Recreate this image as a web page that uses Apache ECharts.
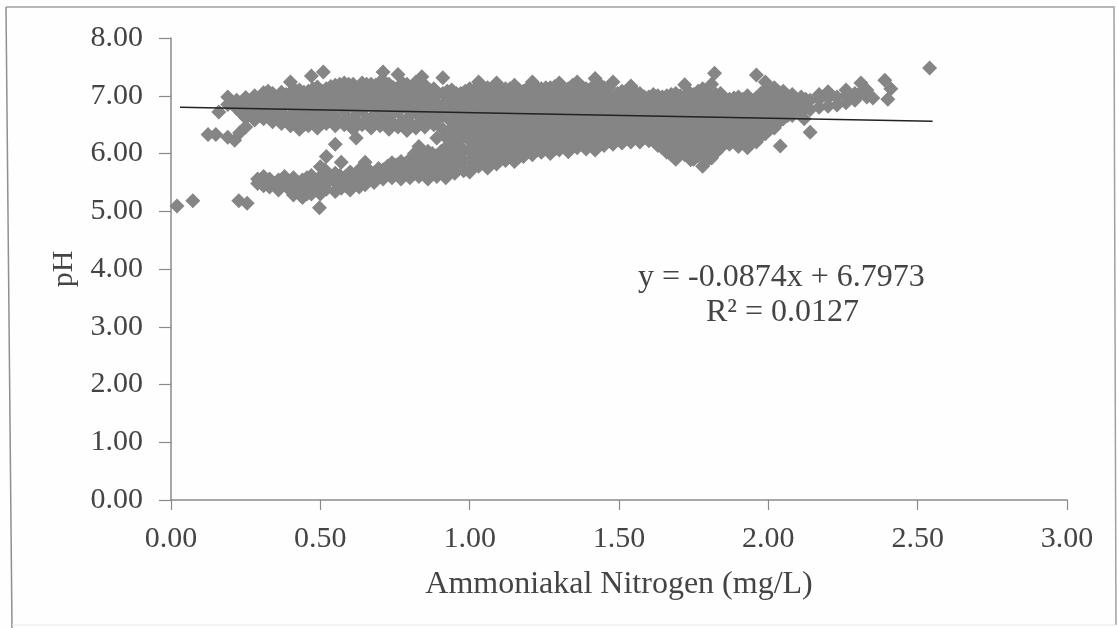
<!DOCTYPE html>
<html><head><meta charset="utf-8">
<script src="https://cdn.jsdelivr.net/npm/echarts@6/dist/echarts.min.js"></script>
<style>html,body{margin:0;padding:0;background:#fefefe}#c{width:1117px;height:628px}</style>
</head><body><div id="c"></div>
<script>
// Each row: nitrogen, then the pH readings in that narrow nitrogen slice
const upperLeft = [
[.16,6.72],[.19,6.85,6.98],[.22,6.78,6.92],[.25,6.62,6.8,6.97],[.28,6.58,6.72,6.9,7.0],[.31,6.6,6.8,6.98,7.05],
[.34,6.55,6.7,6.88,7.04],[.37,6.52,6.78,6.95,7.06],[.40,6.48,6.66,6.86,7.05,7.24],[.43,6.42,6.6,6.8,6.98,7.1],
[.46,6.48,6.7,6.9,7.08],[.47,7.34],[.49,6.44,6.6,6.8,7.0,7.15],[.51,7.41],[.52,6.52,6.72,6.92,7.12],[.55,6.48,6.64,6.84,7.02,7.18],
[.58,6.5,6.74,6.94,7.14,7.22],[.61,6.42,6.62,6.82,7.02,7.2],[.62,6.27],[.64,6.5,6.74,6.92,7.1,7.22],[.67,6.44,6.62,6.84,7.04,7.2],
[.70,6.48,6.72,6.94,7.14,7.24],[.71,7.41],[.73,6.42,6.62,6.82,7.02,7.2],[.76,6.46,6.72,6.92,7.12,7.37],[.79,6.4,6.6,6.82,7.02,7.2],
[.82,6.44,6.7,6.92,7.1,7.24],[.84,7.33],[.85,6.46,6.62,6.82,7.02,7.18],[.88,6.5,6.72,6.92,7.12],[.91,6.42,6.66,6.84,7.04,7.31],
[.94,6.44,6.56,6.74,6.94,7.1],[.97,6.42,6.5,6.68,6.86,7.04]
];
const upperFill = [
[.235,6.7,6.86],[.265,6.68,6.88],[.295,6.66,6.82,6.94],[.325,6.7,6.9,7.08],[.355,6.62,6.8,6.98],[.385,6.64,6.86,7.02],
[.415,6.54,6.76,6.96,7.1],[.445,6.5,6.72,6.9,7.06],[.475,6.58,6.8,7.0,7.12],[.505,6.52,6.7,6.9,7.08],[.535,6.6,6.8,7.0,7.16],
[.565,6.56,6.82,7.04,7.2],[.595,6.6,6.84,7.04,7.2],[.625,6.52,6.72,6.94,7.12],[.655,6.6,6.82,7.02,7.2],[.685,6.54,6.82,7.04,7.18],
[.715,6.58,6.84,7.06,7.24],[.745,6.52,6.74,6.96,7.14],[.775,6.56,6.82,7.04,7.22],[.805,6.5,6.72,6.94,7.14],[.835,6.56,6.8,7.0,7.2],
[.865,6.56,6.76,6.98,7.1],[.895,6.6,6.82,7.04],[.925,6.62,6.86,7.08],[.955,6.64,6.84,7.04],[.985,6.6,6.78,6.96,7.08]
];
const lowerLeft = [
[.29,5.48,5.56],[.31,5.6,5.44],[.33,5.42,5.56],[.36,5.37,5.54],[.38,5.48,5.6],[.41,5.28,5.44,5.58],[.44,5.24,5.38,5.54],
[.47,5.3,5.48,5.62],[.50,5.3,5.44,5.6,5.77],[.52,5.38,5.56,5.95],[.55,5.34,5.5,5.66,6.16],[.57,5.4,5.56,5.85],
[.60,5.37,5.52,5.68],[.63,5.42,5.6,5.72],[.65,5.46,5.64,5.85],[.68,5.5,5.66],[.71,5.56,5.72],[.74,5.58,5.74,5.84],
[.77,5.56,5.7,5.86],[.80,5.58,5.74,5.9],[.83,5.6,5.76,5.94,6.12],[.86,5.56,5.72,5.9,6.04],[.89,5.6,5.78,5.96,6.27],
[.92,5.58,5.74,5.92,6.1,6.28],[.95,5.66,5.82,6.0,6.2,6.36],[.98,5.7,5.88,6.06,6.3,6.4]
];
const lowerFill = [
[.345,5.48],[.395,5.38,5.52],[.425,5.34,5.5],[.455,5.3,5.44,5.58],[.485,5.38,5.54],[.515,5.46,5.62,5.72],[.565,5.46,5.62],
[.585,5.44,5.6],[.615,5.46,5.62],[.665,5.56,5.7],[.695,5.6,5.74],[.725,5.64,5.78],[.755,5.64,5.8],[.785,5.66,5.82],[.815,5.66,5.84,6.0],
[.845,5.66,5.84,6.0],[.875,5.66,5.84,6.0],[.905,5.68,5.86,6.04],[.935,5.68,5.86,6.04,6.2],[.965,5.76,5.94,6.12,6.34]
];
const merged = [
[1.00,5.68,5.86,6.04,6.22,6.42,6.62,6.82,7.02,7.12],[1.03,5.78,5.96,6.14,6.32,6.52,6.72,6.92,7.1,7.24],
[1.06,5.75,5.92,6.1,6.28,6.46,6.64,6.84,7.04,7.14],[1.09,5.82,6.0,6.18,6.38,6.58,6.78,6.98,7.22],
[1.12,5.88,6.06,6.24,6.44,6.64,6.84,7.04,7.12],[1.15,5.86,6.0,6.2,6.4,6.6,6.8,7.0,7.18],
[1.18,5.95,6.12,6.3,6.5,6.7,6.9,7.08],[1.21,5.98,6.06,6.24,6.44,6.64,6.84,7.04,7.24],
[1.24,6.02,6.18,6.36,6.56,6.76,6.96,7.12],[1.27,6.0,6.12,6.3,6.5,6.7,6.9,7.08,7.14],
[1.30,6.06,6.22,6.42,6.62,6.82,7.02,7.22],[1.33,6.03,6.16,6.36,6.56,6.76,6.96,7.12],
[1.36,6.1,6.28,6.48,6.68,6.88,7.08,7.24],[1.39,6.08,6.22,6.42,6.62,6.82,7.02,7.12],
[1.42,6.06,6.3,6.5,6.7,6.9,7.1,7.3],[1.45,6.14,6.26,6.46,6.66,6.86,7.06,7.14],
[1.48,6.16,6.34,6.54,6.74,6.94,7.24],[1.51,6.18,6.3,6.5,6.7,6.9,7.08],
[1.54,6.2,6.38,6.58,6.78,6.98,7.17],[1.57,6.2,6.32,6.52,6.72,6.92,7.04],
[1.60,6.22,6.4,6.6,6.8,6.98],[1.63,6.14,6.3,6.5,6.7,6.9,7.0],[1.66,6.02,6.2,6.4,6.6,6.8,7.0],
[1.69,5.92,6.1,6.3,6.5,6.7,6.9,7.04],[1.72,5.98,6.18,6.38,6.58,6.78,6.98,7.19],
[1.75,5.9,6.08,6.28,6.48,6.68,6.88,7.02],[1.78,5.78,5.96,6.16,6.36,6.56,6.76,6.96,7.12],
[1.81,5.92,6.12,6.32,6.52,6.72,6.92,7.2],[1.82,7.39],[1.84,6.1,6.24,6.44,6.64,6.84,7.04],
[1.87,6.16,6.34,6.54,6.74,6.94],[1.90,6.12,6.28,6.48,6.68,6.88,6.98],[1.93,6.1,6.22,6.42,6.62,6.82,7.0],
[1.96,6.2,6.36,6.56,6.76,6.96,7.36],[1.99,6.34,6.5,6.7,6.9,7.1,7.24],[2.02,6.44,6.6,6.8,7.0,7.14],
[2.05,6.6,6.74,6.94,7.08],[2.08,6.66,6.84,7.02],[2.11,6.72,6.88,6.98],[2.14,6.76,6.92]
];
const mergedFill = [
[1.015,5.78,5.95,6.13,6.32,6.52,6.72,6.92,7.1],[1.045,5.86,6.04,6.22,6.42,6.62,6.82,7.02,7.12],[1.075,5.84,6.0,6.2,6.38,6.55,6.74,6.94,7.12],
[1.105,5.92,6.1,6.28,6.48,6.68,6.88,7.08],[1.135,5.95,6.14,6.34,6.54,6.74,6.94,7.12],[1.165,5.94,6.1,6.3,6.5,6.7,6.9,7.1],
[1.195,6.04,6.2,6.4,6.6,6.8,7.0,7.14],[1.225,6.06,6.16,6.34,6.54,6.74,6.94,7.14],[1.255,6.1,6.28,6.46,6.66,6.86,7.06,7.14],
[1.285,6.08,6.22,6.4,6.6,6.8,7.0,7.16],[1.315,6.14,6.32,6.52,6.72,6.92,7.12],[1.345,6.12,6.26,6.46,6.66,6.86,7.06,7.18],
[1.375,6.18,6.38,6.58,6.78,6.98,7.16],[1.405,6.16,6.32,6.52,6.72,6.92,7.12],[1.435,6.16,6.4,6.6,6.8,7.0,7.2],
[1.465,6.22,6.36,6.56,6.76,6.96,7.14],[1.495,6.24,6.44,6.64,6.84,7.04],[1.525,6.26,6.4,6.6,6.8,7.0],
[1.555,6.28,6.48,6.68,6.88,7.06],[1.585,6.28,6.42,6.62,6.82,6.98],[1.615,6.26,6.5,6.7,6.9,7.02],[1.645,6.1,6.28,6.46,6.66,6.86,6.98],
[1.675,5.98,6.14,6.32,6.52,6.72,6.92,7.02],[1.705,6.02,6.2,6.4,6.6,6.8,7.0],[1.735,6.04,6.26,6.46,6.66,6.88,7.06],
[1.765,5.96,6.16,6.36,6.58,6.78,6.98,7.08],[1.795,5.88,6.06,6.26,6.46,6.66,6.86,7.06],[1.825,6.02,6.22,6.42,6.62,6.82,7.02],
[1.855,6.18,6.34,6.54,6.74,6.94],[1.885,6.24,6.44,6.64,6.84,6.96],[1.915,6.2,6.38,6.58,6.78,6.94],[1.945,6.22,6.34,6.52,6.72,6.92],
[1.975,6.3,6.46,6.66,6.86,7.04],[2.005,6.42,6.6,6.8,7.0],[2.035,6.54,6.7,6.9,7.06],[2.065,6.66,6.84,7.0],[2.095,6.72,6.92],[2.125,6.8,6.94]
];
const rightEnd = [
[2.17,6.8,6.94,7.02],[2.20,6.82,6.96,7.07],[2.23,6.84,6.98],[2.26,6.88,7.0,7.1],[2.29,6.92,7.04],[2.31,7.22,7.06],
[2.33,7.1,6.98],[2.35,6.96],[2.39,7.27],[2.41,7.12],[2.40,6.94],[2.54,7.48]
];
const strays = [
[.02,5.09],[.073,5.18],[.227,5.18],[.255,5.14],[.497,5.06],[.124,6.33],[.15,6.33],[.19,6.28],[.213,6.23],[.23,6.36],[.25,6.46],
[2.04,6.13],[2.14,6.37],[2.12,6.6],[1.74,5.89],[1.69,5.9]
];
const trendNitrogen = [0.03, 2.55];
const trendPH = [6.80, 6.56];
const xTicks = 0.5, yTicks = 1;

const flatten = rows => rows.flatMap(r => r.slice(1).map(y => [r[0], y]));
const points = [upperLeft,upperFill,lowerLeft,lowerFill,merged,mergedFill,rightEnd].flatMap(flatten).concat(strays);
const serif = '"Liberation Serif","Times New Roman",serif';
const axisCommon = {
  axisLine:{onZero:false,lineStyle:{color:'#8a8a8a',width:1.5}},
  splitLine:{show:false},
  nameLocation:'middle'
};
const chart = echarts.init(document.getElementById('c'),null,{renderer:'canvas'});
chart.setOption({
  animation:false,
  backgroundColor:'#fefefe',
  grid:{left:171,right:50,top:38,bottom:128},
  xAxis:{...axisCommon,type:'value',min:0,max:3,interval:xTicks,name:'Ammoniakal Nitrogen (mg/L)',nameGap:69,
    nameTextStyle:{fontFamily:serif,fontSize:32,color:'#444'},
    axisTick:{show:true,length:10,lineStyle:{color:'#8a8a8a',width:1.2}},
    axisLabel:{formatter:v=>v.toFixed(2),fontFamily:serif,fontSize:30,color:'#444',margin:24}},
  yAxis:{...axisCommon,type:'value',min:0,max:8,interval:yTicks,name:'pH',nameGap:92,
    nameTextStyle:{fontFamily:serif,fontSize:30,color:'#444'},
    axisTick:{show:true,length:12,lineStyle:{color:'#8a8a8a',width:1.2}},
    axisLabel:{formatter:v=>v.toFixed(2),fontFamily:serif,fontSize:30,color:'#444',margin:28}},
  series:[
    {type:'scatter',data:points,symbol:'diamond',symbolSize:15,itemStyle:{color:'#858585',opacity:1}},
    {type:'line',data:trendNitrogen.map((x,i)=>[x,trendPH[i]]),showSymbol:false,silent:true,z:5,
      lineStyle:{color:'#222',width:1.5}}
  ],
  graphic:[
    {type:'polyline',silent:true,z:-1,shape:{points:[[6,7],[1114,7],[1116,625]]},style:{fill:'none',stroke:'#a0a0a0',lineWidth:1.5}},
    {type:'polyline',silent:true,z:-1,shape:{points:[[6,7],[12,628]]},style:{fill:'none',stroke:'#909090',lineWidth:1.5}},
    {type:'polyline',silent:true,z:-1,shape:{points:[[12,625],[1116,625]]},style:{fill:'none',stroke:'#e6e6e6',lineWidth:1}},
    {type:'text',left:638,top:262,style:{text:'y = -0.0874x + 6.7973',font:'32px '+serif,fill:'#444'}},
    {type:'text',left:706,top:297,style:{text:'R² = 0.0127',font:'32px '+serif,fill:'#444'}}
  ]
});
</script></body></html>
